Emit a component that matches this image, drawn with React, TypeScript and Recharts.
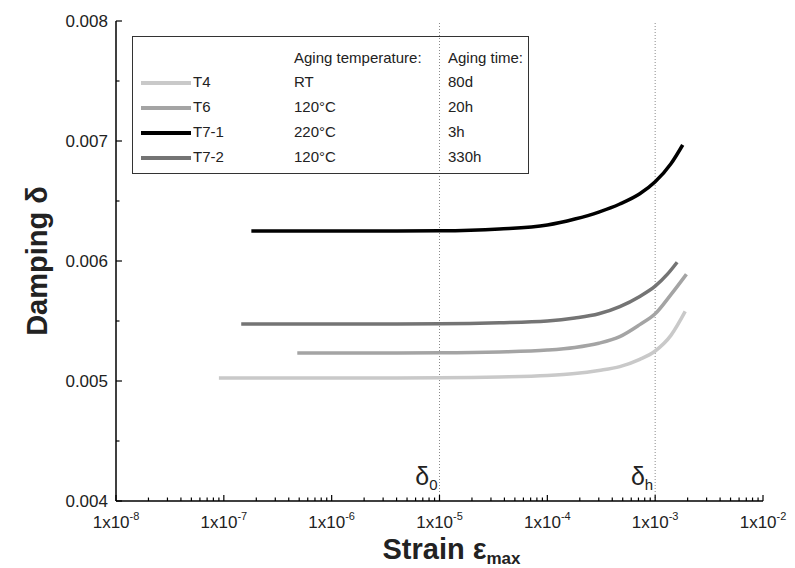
import React from 'react';
import { LineChart, Line, XAxis, YAxis, ReferenceLine } from 'recharts';

const seriesNames = ['T4', 'T6', 'T7-1', 'T7-2'];
const agingTemps = ['RT', '120°C', '220°C', '120°C'];
const agingTimes = ['80d', '20h', '3h', '330h'];
const seriesColors = ['#c9c9c9', '#a4a4a4', '#000000', '#747474'];

const strainT4 = [9e-8, 1e-6, 1e-5, 3.6e-5, 1e-4, 1.8e-4, 3e-4, 4.7e-4, 7.2e-4, 1e-3, 1.4e-3, 1.9e-3];
const dampingT4 = [0.005025, 0.005025, 0.005027, 0.005033, 0.005045, 0.005062, 0.005088, 0.00512, 0.00518, 0.00525, 0.00538, 0.00558];

const strainT6 = [4.8e-7, 1e-6, 1e-5, 3.6e-5, 1e-4, 1.8e-4, 3e-4, 4.7e-4, 7.2e-4, 1e-3, 1.4e-3, 1.95e-3];
const dampingT6 = [0.005233, 0.005233, 0.005235, 0.005242, 0.005258, 0.00528, 0.005315, 0.00537, 0.00547, 0.00556, 0.00572, 0.00589];

const strainT71 = [1.8e-7, 1e-6, 1e-5, 3.6e-5, 1e-4, 1.8e-4, 3e-4, 4.7e-4, 7.2e-4, 1e-3, 1.4e-3, 1.8e-3];
const dampingT71 = [0.00625, 0.00625, 0.006252, 0.006267, 0.0063, 0.00635, 0.006408, 0.006475, 0.00656, 0.00666, 0.00681, 0.006967];

const strainT72 = [1.45e-7, 1e-6, 1e-5, 3.6e-5, 1e-4, 1.8e-4, 3e-4, 4.7e-4, 7.2e-4, 1e-3, 1.3e-3, 1.6e-3];
const dampingT72 = [0.005475, 0.005475, 0.005477, 0.005485, 0.0055, 0.005525, 0.00556, 0.00562, 0.005705, 0.00579, 0.00589, 0.00599];

const xMajorTicks = [1e-8, 1e-7, 1e-6, 1e-5, 1e-4, 1e-3, 1e-2];
const xExponents = ['-8', '-7', '-6', '-5', '-4', '-3', '-2'];
const yMajorTicks = [0.004, 0.005, 0.006, 0.007, 0.008];
const yMajorLabels = ['0.004', '0.005', '0.006', '0.007', '0.008'];
const yMinorTicks = [0.0045, 0.0055, 0.0065, 0.0075];
const refStrains = [1e-5, 1e-3];
const refSubscripts = ['0', 'h'];

const toRows = (xs: number[], ys: number[]) => xs.map((x, i) => ({ x, y: ys[i] }));
const seriesData = [
  toRows(strainT4, dampingT4),
  toRows(strainT6, dampingT6),
  toRows(strainT71, dampingT71),
  toRows(strainT72, dampingT72),
];

const xMinorTicks: number[] = [];
xMajorTicks.slice(0, -1).forEach((d) => {
  for (let k = 2; k <= 9; k++) xMinorTicks.push(d * k);
});
const xAllTicks = [...xMajorTicks, ...xMinorTicks].sort((a, b) => a - b);
const yAllTicks = [...yMajorTicks, ...yMinorTicks].sort((a, b) => a - b);

const FONT = "'Liberation Sans', Arial, sans-serif";
const TITLE_FONT = "'Liberation Sans Narrow', 'Arial Narrow', 'Liberation Sans', Arial, sans-serif";
const MAJ = 6;
const MIN = 3.5;
const TINY = 0.01;

const BottomTick = (p: any) => {
  const v = p.payload.value;
  const i = xMajorTicks.indexOf(v);
  const len = i >= 0 ? MAJ : MIN;
  return (
    <g>
      <line x1={p.x} x2={p.x} y1={p.y} y2={p.y - len} stroke="#000" strokeWidth={1.2} />
      {i >= 0 && (
        <text x={p.x} y={p.y + 27} textAnchor="middle" fontSize={17} fill="#222" fontFamily={FONT}>
          1x10<tspan dy={-8} fontSize={11}>{xExponents[i]}</tspan>
        </text>
      )}
    </g>
  );
};

const TopTick = (p: any) => {
  const v = p.payload.value;
  const len = xMajorTicks.indexOf(v) >= 0 ? MAJ : MIN;
  return <line x1={p.x} x2={p.x} y1={p.y} y2={p.y + len} stroke="#000" strokeWidth={1.2} />;
};

const LeftTick = (p: any) => {
  const v = p.payload.value;
  const i = yMajorTicks.findIndex((t) => Math.abs(t - v) < 1e-9);
  const len = i >= 0 ? MAJ : MIN;
  return (
    <g>
      <line x1={p.x} x2={p.x + len} y1={p.y} y2={p.y} stroke="#000" strokeWidth={1.2} />
      {i >= 0 && (
        <text x={p.x - 8} y={p.y + 6} textAnchor="end" fontSize={17} fill="#222" fontFamily={FONT}>
          {yMajorLabels[i]}
        </text>
      )}
    </g>
  );
};

const RightTick = (p: any) => {
  const v = p.payload.value;
  const i = yMajorTicks.findIndex((t) => Math.abs(t - v) < 1e-9);
  const len = i >= 0 ? MAJ : MIN;
  return <line x1={p.x} x2={p.x - len} y1={p.y} y2={p.y} stroke="#000" strokeWidth={1.2} />;
};

const XTitle = (props: any) => {
  const vb = props.viewBox || {};
  const cx = vb.x + vb.width / 2 + 12;
  return (
    <text x={cx} y={vb.y + 58} textAnchor="middle" fontSize={29} fontWeight="bold" fill="#222" fontFamily={TITLE_FONT}>
      Strain ε<tspan dy={5} fontSize={17}>max</tspan>
    </text>
  );
};

const YTitle = (props: any) => {
  const vb = props.viewBox || {};
  const cx = vb.x + 29;
  const cy = vb.y + vb.height / 2;
  return (
    <text
      x={cx}
      y={cy}
      transform={`rotate(-90, ${cx}, ${cy})`}
      textAnchor="middle"
      dominantBaseline="central"
      fontSize={29}
      fontWeight="bold"
      fill="#222"
      fontFamily={TITLE_FONT}
    >
      Damping δ
    </text>
  );
};

const makeRefLabel = (sub: string) => (props: any) => {
  const vb = props.viewBox || {};
  return (
    <text x={vb.x - 2} y={vb.y + vb.height - 16} textAnchor="end" fontSize={25} fill="#222" fontFamily={FONT}>
      δ<tspan dy={5} fontSize={15}>{sub}</tspan>
    </text>
  );
};

const Legend = () => {
  const rowY = [46, 71, 96, 121];
  const txt: React.CSSProperties = {
    position: 'absolute',
    fontFamily: FONT,
    fontSize: 15,
    lineHeight: '18px',
    color: '#222',
    whiteSpace: 'nowrap',
  };
  return (
    <div
      style={{
        position: 'absolute',
        left: 124,
        top: 28,
        width: 397,
        height: 138,
        border: '1px solid #333',
        boxSizing: 'border-box',
      }}
    >
      <div style={{ ...txt, left: 161, top: 22 - 10 }}>Aging temperature:</div>
      <div style={{ ...txt, left: 315, top: 22 - 10 }}>Aging time:</div>
      {seriesNames.map((name, i) => (
        <React.Fragment key={name}>
          <div
            style={{
              position: 'absolute',
              left: 8,
              top: rowY[i] - 2,
              width: 50,
              height: 4,
              background: seriesColors[i],
            }}
          />
          <div style={{ ...txt, left: 60, top: rowY[i] - 10 }}>{name}</div>
          <div style={{ ...txt, left: 161, top: rowY[i] - 10 }}>{agingTemps[i]}</div>
          <div style={{ ...txt, left: 315, top: rowY[i] - 10 }}>{agingTimes[i]}</div>
        </React.Fragment>
      ))}
    </div>
  );
};

const axisCommon = {
  interval: 0 as const,
  tickSize: TINY,
  tickMargin: TINY,
  tickLine: false,
  allowDataOverflow: true,
  axisLine: { stroke: '#000', strokeWidth: 1.5 },
};

export default function App() {
  return (
    <div style={{ position: 'relative', width: 787, height: 560 }}>
      <LineChart width={787} height={560} margin={{ top: 13, right: 32, bottom: 0, left: 0 }}>
        <XAxis
          {...axisCommon}
          xAxisId={0}
          dataKey="x"
          type="number"
          scale="log"
          domain={[1e-8, 1e-2]}
          ticks={xAllTicks}
          tick={<BottomTick />}
          height={67}
          label={{ content: XTitle } as any}
        />
        <XAxis
          {...axisCommon}
          xAxisId="top"
          orientation="top"
          dataKey="x"
          type="number"
          scale="log"
          domain={[1e-8, 1e-2]}
          ticks={xAllTicks}
          tick={<TopTick />}
          height={0}
        />
        <YAxis
          {...axisCommon}
          yAxisId={0}
          type="number"
          domain={[0.004, 0.008]}
          ticks={yAllTicks}
          tick={<LeftTick />}
          width={108}
          label={{ content: YTitle } as any}
        />
        <YAxis
          {...axisCommon}
          yAxisId="right"
          orientation="right"
          type="number"
          domain={[0.004, 0.008]}
          ticks={yAllTicks}
          tick={<RightTick />}
          width={0}
        />
        {refStrains.map((s, i) => (
          <ReferenceLine
            key={s}
            x={s}
            xAxisId={0}
            yAxisId={0}
            stroke="#8a8a8a"
            strokeWidth={1}
            strokeDasharray="1 2"
            label={{ content: makeRefLabel(refSubscripts[i]) } as any}
          />
        ))}
        {seriesData.map((d, i) => (
          <Line
            key={seriesNames[i]}
            data={d}
            dataKey="y"
            xAxisId={0}
            yAxisId={0}
            type="monotone"
            stroke={seriesColors[i]}
            strokeWidth={3.5}
            dot={false}
            activeDot={false}
            isAnimationActive={false}
          />
        ))}
      </LineChart>
      <Legend />
    </div>
  );
}
